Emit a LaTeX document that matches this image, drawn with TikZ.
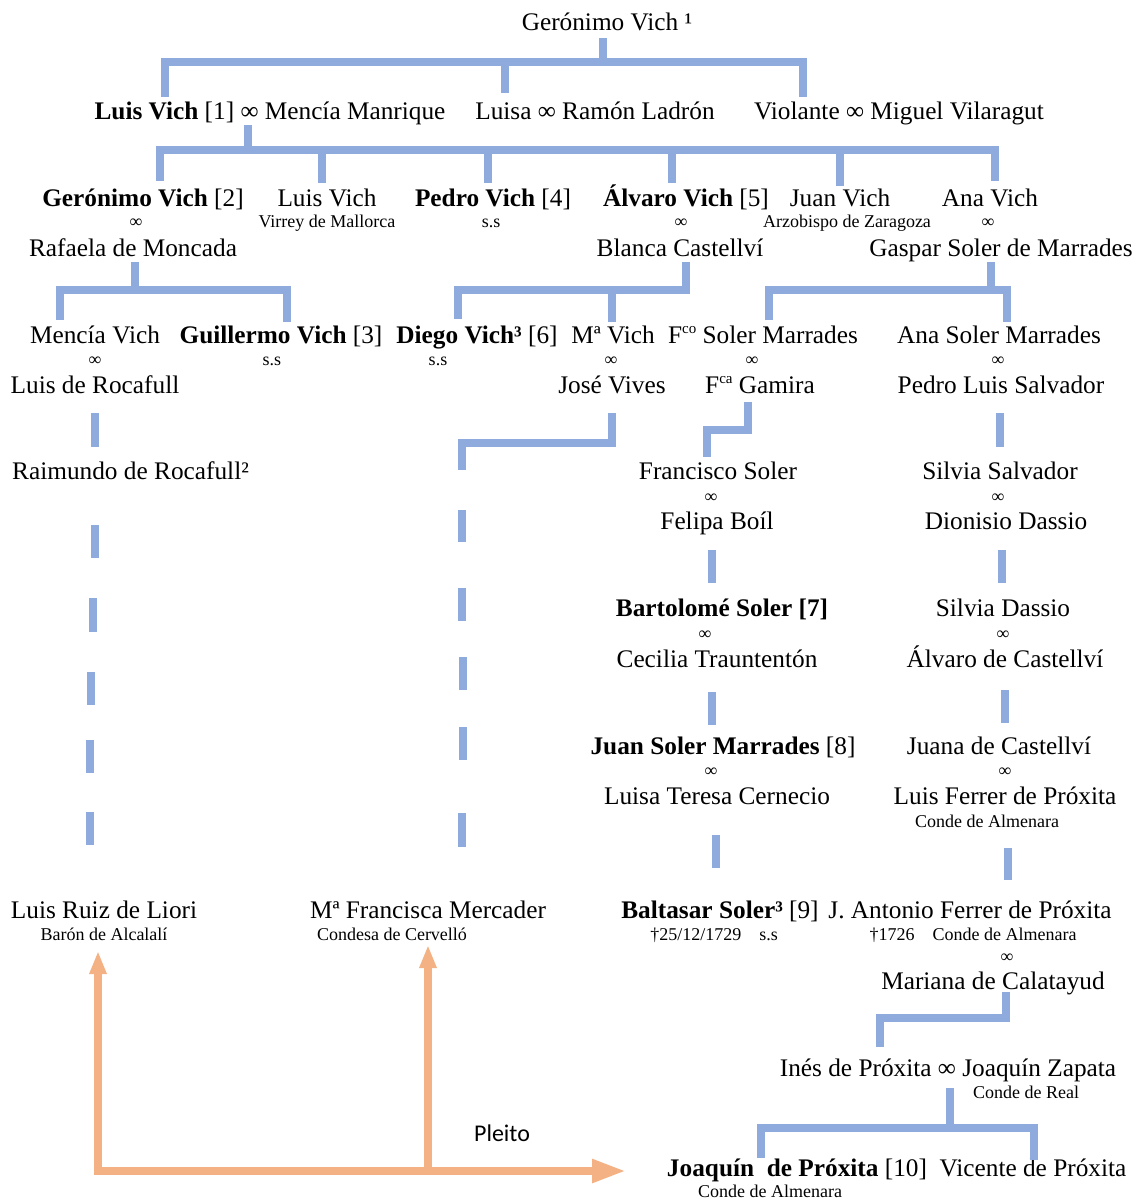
\documentclass[tikz,border=0pt]{standalone}
\usepackage{fontspec}
\setmainfont{Liberation Serif}
\newfontfamily\pleitofont{Carlito}
\usetikzlibrary{arrows.meta}
\definecolor{famblue}{HTML}{8FAADC}
\definecolor{suitorange}{HTML}{F4B183}
% raised abbreviation letters (Fco, Fca)
\newcommand{\abbrsup}[1]{\raisebox{9.6pt}{\fontsize{15}{15}\selectfont #1}}

\begin{document}
\begin{tikzpicture}[x=1pt,y=-1pt,
  nm/.style={inner sep=0pt, anchor=base, font=\fontsize{25.3}{28}\selectfont},
  sm/.style={inner sep=0pt, anchor=base, font=\fontsize{18}{20}\selectfont},
  fam/.style={draw=famblue, line width=8pt, line join=miter},
  suit/.style={draw=suitorange, line width=8pt, line join=miter},
  uptip/.tip={Triangle[length=23pt,width=16pt]},
  righttip/.tip={Triangle[length=34pt,width=22pt]},
]
\fill[white] (0,0) rectangle (1140,1200);
\useasboundingbox (0,0) rectangle (1140,1200);

% ---------- generation 0 and 1
\node[nm] (ger0) at (607,30) {Gerónimo Vich ¹};
\node[nm] (luis1) at (270,119) {\textbf{Luis Vich} [1] ∞ Mencía Manrique};
\node[nm] (luisa1) at (595,119) {Luisa ∞ Ramón Ladrón};
\node[nm] (viol1) at (899,119) {Violante ∞ Miguel Vilaragut};

% ---------- generation 2
\node[nm] (ger2) at (143,206) {\textbf{Gerónimo Vich} [2]};
\node[nm] (lv2) at (327,206) {Luis Vich};
\node[nm] (pv2) at (493,206) {\textbf{Pedro Vich} [4]};
\node[nm] (av2) at (686,206) {\textbf{Álvaro Vich} [5]};
\node[nm] (jv2) at (840,206) {Juan Vich};
\node[nm] (anv2) at (990,206) {Ana Vich};
\node[sm] (ger2m) at (136,227.5) {∞};
\node[sm] (lv2s) at (327,227.5) {Virrey de Mallorca};
\node[sm] (pv2s) at (491,227.5) {s.s};
\node[sm] (av2m) at (681,227.5) {∞};
\node[sm] (jv2s) at (847,227.5) {Arzobispo de Zaragoza};
\node[sm] (anv2m) at (988,227.5) {∞};
\node[nm] (rafaela) at (133,256) {Rafaela de Moncada};
\node[nm] (blanca) at (680,256) {Blanca Castellví};
\node[nm] (gaspar) at (1001,256) {Gaspar Soler de Marrades};

% ---------- generation 3
\node[nm] (mencia) at (95,343) {Mencía Vich};
\node[nm] (guill) at (281,343) {\textbf{Guillermo Vich} [3]};
\node[nm] (diego) at (477,343) {\textbf{Diego Vich³} [6]};
\node[nm] (mavich) at (613,343) {Mª Vich};
\node[nm] (fco) at (763,343) {F\abbrsup{co} Soler Marrades};
\node[nm] (anasol) at (999,343) {Ana Soler Marrades};
\node[sm] (mencm) at (95,365.5) {∞};
\node[sm] (guills) at (272,365.5) {s.s};
\node[sm] (diegos) at (438,365.5) {s.s};
\node[sm] (mavm) at (611,365.5) {∞};
\node[sm] (fcom) at (752,365.5) {∞};
\node[sm] (anasm) at (998,365.5) {∞};
\node[nm] (rocaf) at (95,393) {Luis de Rocafull};
\node[nm] (vives) at (612,393) {José Vives};
\node[nm] (gamira) at (760,393) {F\abbrsup{ca} Gamira};
\node[nm] (pedrol) at (1001,393) {Pedro Luis Salvador};

% ---------- later generations
\node[nm, anchor=base west] (raim) at (12,479) {Raimundo de Rocafull²};
\node[nm] (franc) at (718,479) {Francisco Soler};
\node[nm] (silvia) at (1000,479) {Silvia Salvador};
\node[sm] (francm) at (711,502.5) {∞};
\node[sm] (silviam) at (998,502.5) {∞};
\node[nm] (felipa) at (717,529) {Felipa Boíl};
\node[nm] (dionis) at (1006,529) {Dionisio Dassio};

\node[nm] (bartol) at (722,616) {\textbf{Bartolomé Soler [7]}};
\node[nm] (silviad) at (1003,616) {Silvia Dassio};
\node[sm] (bartm) at (705,639.5) {∞};
\node[sm] (silvdm) at (1003,639.5) {∞};
\node[nm] (cecilia) at (717,667) {Cecilia Trauntentón};
\node[nm] (alvaro) at (1005,667) {Álvaro de Castellví};

\node[nm] (juans) at (723,754) {\textbf{Juan Soler Marrades} [8]};
\node[nm] (juana) at (999,754) {Juana de Castellví};
\node[sm] (juansm) at (711,776.5) {∞};
\node[sm] (juanam) at (1005,776.5) {∞};
\node[nm] (luisat) at (717,804) {Luisa Teresa Cernecio};
\node[nm] (luisf) at (1005,804) {Luis Ferrer de Próxita};
\node[sm] (luisfs) at (987,827.5) {Conde de Almenara};

\node[nm] (liori) at (104,918) {Luis Ruiz de Liori};
\node[nm] (merc) at (428,918) {Mª Francisca Mercader};
\node[nm] (baltas) at (720,918) {\textbf{Baltasar Soler³} [9]};
\node[nm] (jant) at (970,918) {J. Antonio Ferrer de Próxita};
\node[sm] (lioris) at (104,940.5) {Barón de Alcalalí};
\node[sm] (mercs) at (392,940.5) {Condesa de Cervelló};
\node[sm] (baltass) at (714,940.5) {†25/12/1729\quad s.s};
\node[sm] (jants) at (973,940.5) {†1726\quad Conde de Almenara};
\node[sm] (jantm) at (1007,962.5) {∞};
\node[nm] (mariana) at (993,989) {Mariana de Calatayud};

\node[nm] (ines) at (948,1076) {Inés de Próxita ∞ Joaquín Zapata};
\node[sm] (iness) at (1026,1098.5) {Conde de Real};
\node[nm] (joaq) at (797,1176) {\textbf{Joaquín\ \ de Próxita} [10]};
\node[nm] (vicente) at (1033,1176) {Vicente de Próxita};
\node[sm] (joaqs) at (770,1197.5) {Conde de Almenara};

\node[inner sep=0pt, anchor=base, font=\pleitofont\fontsize{24}{26}\selectfont] (pleito) at (502,1141) {Pleito};

% ---------- descent lines
\draw[fam] (603,38) -- (603,62);
\draw[fam] (165,97) -- (165,62) -- (803,62) -- (803,97);
\draw[fam] (505,62) -- (505,93);

\draw[fam] (248,125) -- (248,150);
\draw[fam] (160,181) -- (160,150) -- (995,150) -- (995,181);
\draw[fam] (322,150) -- (322,183);
\draw[fam] (488,150) -- (488,183);
\draw[fam] (672,150) -- (672,183);
\draw[fam] (840,150) -- (840,186);

\draw[fam] (135,262) -- (135,290);
\draw[fam] (60,320) -- (60,290) -- (287,290) -- (287,322);
\draw[fam] (458,319) -- (458,290) -- (686,290) -- (686,262);
\draw[fam] (612,290) -- (612,322);
\draw[fam] (991,262) -- (991,290);
\draw[fam] (769,320) -- (769,290) -- (1007,290) -- (1007,322);

\draw[fam] (95,413) -- (95,447);
\draw[fam] (612,413) -- (612,443) -- (462,443) -- (462,470);
\draw[fam] (748,402) -- (748,430) -- (707,430) -- (707,457);
\draw[fam] (1000,413) -- (1000,447);

\draw[fam] (712,550) -- (712,583);
\draw[fam] (1002,550) -- (1002,583);
\draw[fam] (712,692) -- (712,725);
\draw[fam] (1005,690) -- (1005,723);
\draw[fam] (716,835) -- (716,868);
\draw[fam] (1008,848) -- (1008,880);

\draw[fam] (1006,992) -- (1006,1018) -- (880,1018) -- (880,1047);
\draw[fam] (950,1088) -- (950,1128);
\draw[fam] (761,1158) -- (761,1128) -- (1034,1128) -- (1034,1160);

% broken lines of uncertain descent
\foreach \x/\a/\b in {95/525/558, 93/598/632, 91/672/705, 90/740/773, 90/812/845}
  \draw[fam] (\x,\a) -- (\x,\b);
\foreach \x/\a/\b in {462/510/542, 462/588/621, 463/657/690, 463/727/760, 462/813/847}
  \draw[fam] (\x,\a) -- (\x,\b);

% ---------- lawsuit arrows
\draw[suit, uptip-righttip] (98,951) -- (98,1171) -- (626,1171);
\draw[suit, -uptip] (428,1171) -- (428,945);
\end{tikzpicture}
\end{document}
